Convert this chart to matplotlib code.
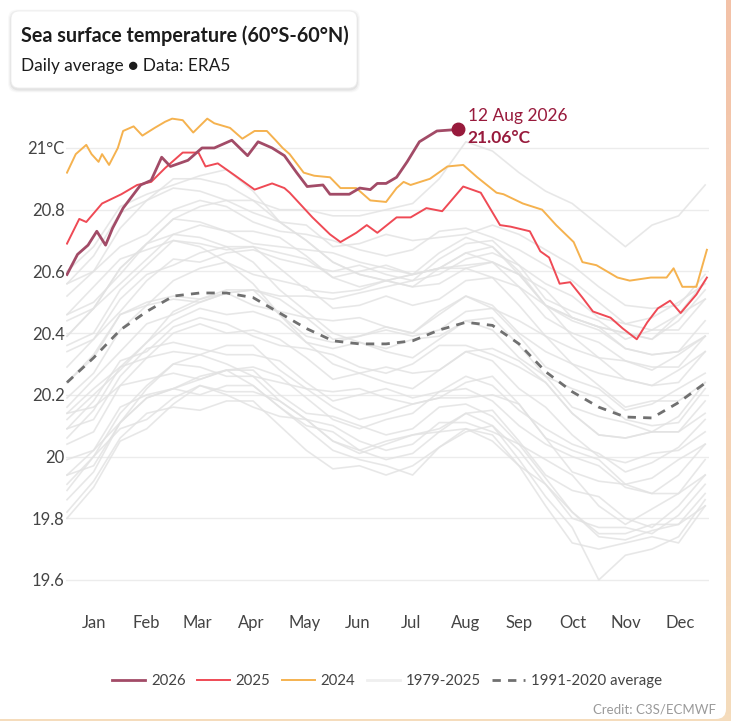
import numpy as np
import matplotlib
matplotlib.use("Agg")
import matplotlib.pyplot as plt
from matplotlib.patches import FancyBboxPatch
from matplotlib.colors import LinearSegmentedColormap

plt.rcParams['font.family'] = ['Lato', 'DejaVu Sans']

# ---- data (daily average SST 60S-60N) ----
month_names = ["Jan", "Feb", "Mar", "Apr", "May", "Jun",
               "Jul", "Aug", "Sep", "Oct", "Nov", "Dec"]
month_len = [31, 28, 31, 30, 31, 30, 31, 31, 30, 31, 30, 31]

days_2026 = [0, 6, 12, 17, 22, 26, 32, 42, 48, 54, 59, 69, 77, 84, 94, 103, 109,
             117, 124, 131, 137, 146, 150, 161, 167, 173, 177, 182, 188, 194,
             201, 211, 223]
sst_2026 = [20.59, 20.655, 20.685, 20.73, 20.685, 20.74, 20.805, 20.88, 20.895,
            20.97, 20.94, 20.96, 21.0, 21.0, 21.025, 20.975, 21.02, 21.0, 20.975,
            20.92, 20.875, 20.88, 20.85, 20.85, 20.87, 20.865, 20.885, 20.885,
            20.905, 20.955, 21.02, 21.055, 21.06]

days_2025 = [0, 7, 11, 20, 31, 40, 48, 56, 66, 75, 79, 86, 96, 107, 117, 124, 127,
             140, 150, 156, 165, 171, 177, 188, 196, 205, 214, 226, 236, 247,
             253, 264, 270, 275, 281, 287, 294, 300, 310, 317, 325, 331, 337,
             344, 350, 359, 365]
sst_2025 = [20.69, 20.77, 20.76, 20.82, 20.85, 20.88, 20.89, 20.935, 20.985,
            20.985, 20.94, 20.95, 20.91, 20.865, 20.885, 20.87, 20.855, 20.775,
            20.72, 20.695, 20.725, 20.75, 20.725, 20.775, 20.775, 20.805, 20.795,
            20.875, 20.855, 20.75, 20.745, 20.73, 20.665, 20.645, 20.56, 20.565,
            20.515, 20.47, 20.45, 20.415, 20.38, 20.435, 20.48, 20.505, 20.465,
            20.525, 20.58]

days_2024 = [0, 5, 11, 14, 18, 20, 24, 29, 32, 38, 43, 50, 56, 60, 66, 72, 80, 84,
             93, 100, 107, 114, 119, 123, 127, 135, 141, 150, 156, 165, 173, 182,
             188, 192, 196, 207, 217, 226, 234, 245, 249, 260, 271, 279, 289,
             294, 302, 314, 321, 333, 342, 346, 351, 359, 365]
sst_2024 = [20.92, 20.98, 21.01, 20.98, 20.955, 20.98, 20.945, 21.0, 21.055,
            21.07, 21.04, 21.065, 21.085, 21.095, 21.09, 21.05, 21.095, 21.08,
            21.065, 21.03, 21.055, 21.055, 21.025, 21.0, 20.98, 20.92, 20.91,
            20.905, 20.87, 20.87, 20.83, 20.825, 20.87, 20.89, 20.88, 20.90,
            20.94, 20.945, 20.905, 20.855, 20.85, 20.82, 20.80, 20.75, 20.695,
            20.63, 20.62, 20.58, 20.57, 20.58, 20.58, 20.61, 20.55, 20.55, 20.67]

# 1979-2023 and the 1991-2020 mean, sampled every ~15 days
knot_days = np.linspace(0, 364, 25)
avg_1991_2020 = [20.24, 20.32, 20.41, 20.47, 20.52, 20.53, 20.53, 20.515, 20.465,
                 20.415, 20.375, 20.365, 20.365, 20.375, 20.41, 20.435, 20.425,
                 20.365, 20.275, 20.21, 20.16, 20.128, 20.125, 20.175, 20.238]

past_years = [1979, 1981, 1982, 1984, 1985, 1986, 1988, 1989, 1990, 1992, 1994,
              1996, 1997, 1998, 2000, 2002, 2004, 2006, 2008, 2010, 2012, 2014,
              2015, 2016, 2017, 2018, 2019, 2020, 2021, 2022, 2023]
past_sst = [
    [19.94, 19.97, 20.11, 20.19, 20.22, 20.26, 20.28, 20.23, 20.16, 20.10, 20.08, 20.02, 19.99, 20.01, 20.08, 20.09, 20.05, 19.97, 19.91, 19.80, 19.77, 19.77, 19.75, 19.81, 19.91],
    [19.89, 20.00, 20.09, 20.12, 20.19, 20.23, 20.21, 20.21, 20.18, 20.12, 20.05, 20.01, 20.04, 20.07, 20.09, 20.14, 20.10, 20.02, 19.91, 19.82, 19.74, 19.73, 19.76, 19.78, 19.84],
    [19.82, 19.92, 20.06, 20.14, 20.16, 20.15, 20.18, 20.18, 20.10, 20.02, 19.96, 19.97, 19.94, 19.97, 20.03, 20.08, 20.10, 19.99, 19.87, 19.77, 19.60, 19.68, 19.70, 19.74, 19.86],
    [19.86, 19.95, 20.11, 20.19, 20.22, 20.20, 20.23, 20.23, 20.16, 20.09, 20.02, 19.99, 19.97, 19.94, 20.03, 20.09, 20.07, 19.97, 19.84, 19.72, 19.70, 19.72, 19.74, 19.72, 19.84],
    [19.80, 19.90, 20.05, 20.09, 20.17, 20.23, 20.20, 20.16, 20.13, 20.12, 20.10, 20.05, 20.02, 20.04, 20.11, 20.11, 20.08, 20.04, 19.93, 19.82, 19.75, 19.75, 19.78, 19.78, 19.88],
    [19.94, 20.02, 20.16, 20.20, 20.22, 20.25, 20.28, 20.28, 20.20, 20.14, 20.13, 20.10, 20.07, 20.09, 20.16, 20.17, 20.13, 20.04, 19.99, 19.94, 19.84, 19.78, 19.83, 19.88, 19.94],
    [19.99, 20.02, 20.11, 20.22, 20.30, 20.29, 20.26, 20.26, 20.18, 20.12, 20.05, 20.02, 20.05, 20.07, 20.08, 20.14, 20.15, 20.05, 19.94, 19.89, 19.87, 19.80, 19.77, 19.84, 19.94],
    [19.91, 20.00, 20.14, 20.23, 20.30, 20.33, 20.30, 20.26, 20.24, 20.22, 20.16, 20.12, 20.14, 20.17, 20.19, 20.19, 20.20, 20.17, 20.06, 19.95, 19.92, 19.91, 19.88, 19.88, 19.99],
    [20.04, 20.08, 20.23, 20.32, 20.34, 20.33, 20.36, 20.36, 20.28, 20.22, 20.21, 20.22, 20.19, 20.17, 20.19, 20.24, 20.26, 20.17, 20.06, 20.02, 19.99, 19.91, 19.93, 19.99, 20.04],
    [20.14, 20.16, 20.23, 20.25, 20.27, 20.25, 20.28, 20.29, 20.26, 20.19, 20.12, 20.09, 20.12, 20.14, 20.21, 20.22, 20.18, 20.10, 20.04, 20.00, 19.97, 19.90, 19.88, 19.94, 20.04],
    [20.06, 20.15, 20.29, 20.32, 20.40, 20.43, 20.40, 20.41, 20.38, 20.32, 20.25, 20.27, 20.29, 20.27, 20.28, 20.34, 20.35, 20.31, 20.24, 20.14, 20.07, 20.06, 20.08, 20.08, 20.14],
    [20.09, 20.12, 20.26, 20.35, 20.37, 20.35, 20.33, 20.33, 20.31, 20.24, 20.18, 20.20, 20.22, 20.19, 20.21, 20.26, 20.23, 20.15, 20.09, 20.04, 20.01, 19.95, 19.98, 20.03, 20.12],
    [20.14, 20.22, 20.29, 20.37, 20.47, 20.51, 20.53, 20.54, 20.52, 20.52, 20.51, 20.53, 20.55, 20.57, 20.59, 20.64, 20.66, 20.62, 20.56, 20.52, 20.45, 20.43, 20.41, 20.46, 20.51],
    [20.46, 20.55, 20.64, 20.67, 20.70, 20.68, 20.63, 20.56, 20.46, 20.37, 20.30, 20.27, 20.24, 20.22, 20.28, 20.34, 20.31, 20.22, 20.16, 20.07, 20.00, 19.98, 20.01, 20.02, 20.08],
    [20.09, 20.18, 20.31, 20.34, 20.42, 20.45, 20.43, 20.39, 20.36, 20.35, 20.33, 20.29, 20.27, 20.30, 20.36, 20.36, 20.33, 20.29, 20.24, 20.14, 20.07, 20.06, 20.08, 20.08, 20.18],
    [20.19, 20.27, 20.41, 20.49, 20.51, 20.50, 20.53, 20.54, 20.51, 20.45, 20.44, 20.45, 20.42, 20.40, 20.46, 20.52, 20.49, 20.40, 20.34, 20.30, 20.23, 20.16, 20.18, 20.18, 20.24],
    [20.24, 20.32, 20.46, 20.50, 20.52, 20.51, 20.54, 20.54, 20.46, 20.39, 20.37, 20.39, 20.41, 20.39, 20.41, 20.47, 20.48, 20.39, 20.29, 20.25, 20.22, 20.15, 20.17, 20.22, 20.27],
    [20.16, 20.25, 20.34, 20.43, 20.46, 20.50, 20.53, 20.49, 20.47, 20.45, 20.38, 20.39, 20.42, 20.40, 20.47, 20.52, 20.48, 20.44, 20.39, 20.30, 20.27, 20.25, 20.23, 20.24, 20.34],
    [20.12, 20.20, 20.28, 20.37, 20.44, 20.48, 20.46, 20.47, 20.44, 20.37, 20.35, 20.37, 20.35, 20.38, 20.39, 20.44, 20.45, 20.36, 20.26, 20.22, 20.19, 20.12, 20.10, 20.11, 20.22],
    [20.39, 20.48, 20.61, 20.69, 20.72, 20.71, 20.68, 20.63, 20.54, 20.47, 20.40, 20.37, 20.34, 20.32, 20.38, 20.44, 20.41, 20.32, 20.26, 20.16, 20.13, 20.11, 20.08, 20.13, 20.24],
    [20.24, 20.33, 20.46, 20.49, 20.57, 20.61, 20.63, 20.59, 20.57, 20.55, 20.48, 20.49, 20.52, 20.49, 20.51, 20.57, 20.58, 20.49, 20.39, 20.35, 20.32, 20.25, 20.23, 20.28, 20.34],
    [20.29, 20.38, 20.47, 20.57, 20.64, 20.63, 20.66, 20.67, 20.64, 20.62, 20.60, 20.62, 20.59, 20.57, 20.64, 20.69, 20.70, 20.62, 20.51, 20.47, 20.44, 20.38, 20.41, 20.41, 20.51],
    [20.46, 20.50, 20.59, 20.69, 20.77, 20.81, 20.83, 20.79, 20.76, 20.75, 20.68, 20.69, 20.72, 20.70, 20.71, 20.72, 20.75, 20.72, 20.67, 20.62, 20.55, 20.49, 20.48, 20.49, 20.59],
    [20.60, 20.68, 20.81, 20.85, 20.88, 20.91, 20.93, 20.86, 20.76, 20.70, 20.63, 20.59, 20.57, 20.59, 20.61, 20.62, 20.63, 20.59, 20.49, 20.45, 20.42, 20.35, 20.33, 20.34, 20.39],
    [20.39, 20.48, 20.61, 20.69, 20.77, 20.76, 20.73, 20.73, 20.71, 20.65, 20.58, 20.55, 20.57, 20.59, 20.61, 20.61, 20.58, 20.55, 20.49, 20.39, 20.32, 20.31, 20.29, 20.29, 20.39],
    [20.34, 20.38, 20.51, 20.59, 20.62, 20.66, 20.68, 20.68, 20.61, 20.54, 20.53, 20.54, 20.57, 20.55, 20.56, 20.61, 20.63, 20.59, 20.54, 20.45, 20.42, 20.40, 20.38, 20.44, 20.54],
    [20.52, 20.60, 20.68, 20.72, 20.80, 20.83, 20.81, 20.76, 20.73, 20.72, 20.70, 20.67, 20.65, 20.67, 20.73, 20.74, 20.71, 20.67, 20.62, 20.57, 20.50, 20.43, 20.45, 20.50, 20.56],
    [20.56, 20.65, 20.79, 20.83, 20.90, 20.90, 20.88, 20.83, 20.76, 20.70, 20.63, 20.59, 20.57, 20.55, 20.61, 20.66, 20.63, 20.55, 20.45, 20.40, 20.37, 20.31, 20.28, 20.33, 20.39],
    [20.36, 20.40, 20.54, 20.62, 20.70, 20.69, 20.67, 20.68, 20.66, 20.64, 20.58, 20.60, 20.62, 20.59, 20.61, 20.66, 20.68, 20.60, 20.49, 20.44, 20.41, 20.35, 20.33, 20.34, 20.44],
    [20.44, 20.48, 20.56, 20.64, 20.72, 20.75, 20.73, 20.69, 20.68, 20.67, 20.66, 20.63, 20.61, 20.59, 20.66, 20.71, 20.68, 20.59, 20.49, 20.45, 20.42, 20.40, 20.38, 20.46, 20.57],
    [20.56, 20.60, 20.74, 20.83, 20.87, 20.86, 20.83, 20.83, 20.80, 20.80, 20.78, 20.78, 20.80, 20.82, 20.90, 21.02, 20.99, 20.92, 20.86, 20.82, 20.75, 20.68, 20.75, 20.78, 20.88],
]

y_ticks = [19.6, 19.8, 20.0, 20.2, 20.4, 20.6, 20.8, 21.0]
y_labels = ["19.6", "19.8", "20", "20.2", "20.4", "20.6", "20.8", "21°C"]

# colours
c2026, c2025, c2024 = "#a24b67", "#ef4a55", "#f5b24f"
c_past, c_avg, c_hl = "#e2e2e2", "#707070", "#981a3c"
txt = "#444444"

W, H = 731, 721
fig = plt.figure(figsize=(W / 100, H / 100), dpi=100)

# background: peach page edge + white rounded card
bg = fig.add_axes([0, 0, 1, 1], zorder=-5)
bg.set_xlim(0, W)
bg.set_ylim(H, 0)
bg.axis("off")
peach = LinearSegmentedColormap.from_list("peach", ["#f3c2a8", "#f5dcbc"])
bg.imshow(np.linspace(0, 1, 100).reshape(-1, 1), cmap=peach,
          extent=(0, W, H, 0), aspect="auto")
bg.add_patch(FancyBboxPatch((-20, -20), 746, 739,
                            boxstyle="round,pad=0,rounding_size=10",
                            fc="white", ec="none"))

# title card with a soft shadow
for d, a in [(3, 0.025), (2, 0.035), (1, 0.05)]:
    bg.add_patch(FancyBboxPatch((11 - d, 11 - d + 1.5), 346 + 2 * d, 77 + 2 * d,
                                boxstyle="round,pad=0,rounding_size=9",
                                fc="black", ec="none", alpha=a))
bg.add_patch(FancyBboxPatch((11, 11), 346, 77,
                            boxstyle="round,pad=0,rounding_size=8",
                            fc="white", ec="#ededed", lw=0.6))
bg.text(21, 36, "Sea surface temperature (60°S-60°N)", fontsize=14.2,
        fontweight="bold", color="#1c1c1c", va="center")
bg.text(21, 66, "Daily average ● Data: ERA5", fontsize=12.4, color="#1c1c1c",
        va="center")

# main chart
ax = fig.add_axes([66 / W, 1 - 600 / H, (709 - 66) / W, (600 - 110) / H])
ax.set_xlim(-0.57, 366.2)
ax.set_ylim(19.535, 21.123)

for i, vals in enumerate(past_sst):
    ax.plot(knot_days, vals, color=c_past, lw=1.2, alpha=0.8, zorder=1,
            label="1979-2025" if i == 0 else None)
ax.plot(knot_days, avg_1991_2020, color=c_avg, lw=2, dashes=(3, 2.6),
        zorder=2, label="1991-2020 average")
ax.plot(days_2024, sst_2024, color=c2024, lw=1.4, zorder=3, label="2024")
ax.plot(days_2025, sst_2025, color=c2025, lw=1.4, zorder=4, label="2025")
ax.plot(days_2026, sst_2026, color=c2026, lw=2.0, zorder=5, label="2026")

# latest value marker
ax.plot(days_2026[-1], sst_2026[-1], "o", ms=9, color=c_hl, zorder=6)
ax.annotate("12 Aug 2026", xy=(days_2026[-1], sst_2026[-1]), xytext=(7, 9.5),
            textcoords="offset points", va="center", fontsize=12.5, color=c_hl)
ax.annotate(f"{sst_2026[-1]:.2f}°C", xy=(days_2026[-1], sst_2026[-1]),
            xytext=(7, -6.5), textcoords="offset points", va="center",
            fontsize=12.5, fontweight="bold", color=c_hl)

starts = np.cumsum([0] + month_len[:-1])
mids = starts + np.array(month_len) / 2
ax.set_xticks(mids)
ax.set_xticklabels(month_names)
ax.set_yticks(y_ticks)
ax.set_yticklabels(y_labels)
ax.tick_params(axis="x", length=0, pad=11, labelsize=12, labelcolor=txt)
ax.tick_params(axis="y", length=0, pad=1, labelsize=12, labelcolor=txt)
ax.grid(axis="y", color="#ececec", lw=1)
ax.set_axisbelow(True)
for s in ax.spines.values():
    s.set_visible(False)

handles, labels = ax.get_legend_handles_labels()
order = ["2026", "2025", "2024", "1979-2025", "1991-2020 average"]
hmap = dict(zip(labels, handles))
leg = fig.legend([hmap[k] for k in order], order, loc="center",
                 bbox_to_anchor=(387 / W, 1 - 681 / H), ncol=5, frameon=False,
                 fontsize=10.8, labelcolor=txt, handlelength=2.2,
                 handletextpad=0.4, columnspacing=0.75)
leg.legend_handles[3].set_color("#ebebeb")
leg.legend_handles[3].set_linewidth(2)

fig.text(716 / W, 1 - 709 / H, "Credit: C3S/ECMWF", ha="right", va="center",
         fontsize=9.5, color="#9a9a9a")

fig.savefig("out.png", dpi=100)
